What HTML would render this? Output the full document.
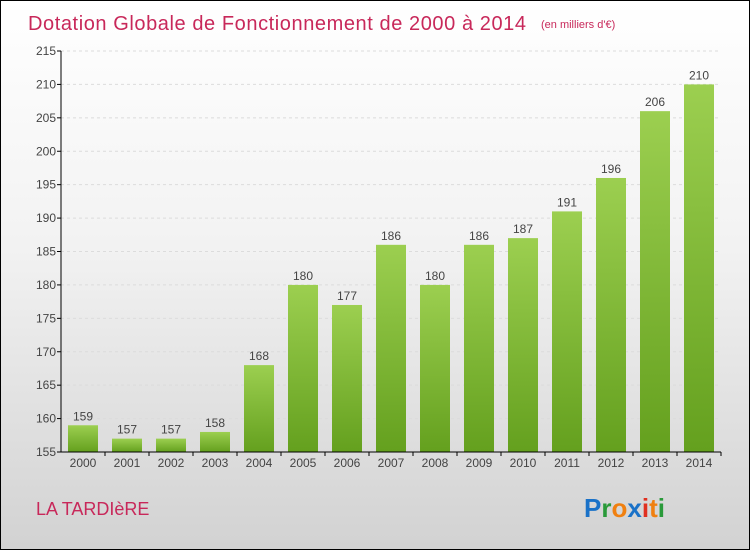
<!DOCTYPE html>
<html><head><meta charset="utf-8"><style>
body{margin:0}
#c{position:relative;width:748px;height:548px;border:1px solid #000;background:linear-gradient(#ffffff,#f2f2f2 45%,#d2d2d2);font-family:"Liberation Sans",sans-serif;overflow:hidden}
</style></head><body>
<div id="c">
<svg width="748" height="548">
<defs><linearGradient id="g" x1="0" x2="0" y1="0" y2="1"><stop offset="0" stop-color="#9ccf50"/><stop offset="1" stop-color="#64a01e"/></linearGradient></defs>
<text x="27" y="29" font-size="20" fill="#c8285a" textLength="498" lengthAdjust="spacing">Dotation Globale de Fonctionnement de 2000 à 2014</text>
<text x="540" y="27" font-size="11" fill="#c8285a">(en milliers d'€)</text>
<g id="grid"></g><g id="bars"></g><g id="axes"></g>
<text x="35" y="514" font-size="18" fill="#c8285a">LA TARDIèRE</text>
<text x="583" y="516" font-size="26" font-weight="bold" font-family="Liberation Sans, sans-serif"><tspan fill="#1a72c8">P</tspan><tspan fill="#2a9a3a">r</tspan><tspan fill="#f08010">o</tspan><tspan fill="#1a72c8">x</tspan><tspan fill="#e03020">i</tspan><tspan fill="#f08010">t</tspan><tspan fill="#2a9a3a">i</tspan></text>
</svg></div>
<script>
const years=["2000","2001","2002","2003","2004","2005","2006","2007","2008","2009","2010","2011","2012","2013","2014"];
const values=[159,157,157,158,168,180,177,186,180,186,187,191,196,206,210];
const ticks=[155,160,165,170,175,180,185,190,195,200,205,210,215];
const NS="http://www.w3.org/2000/svg";
const y=v=>451-(v-155)*(401/60);
const x=i=>82+i*44;
function mk(t,a,p){const e=document.createElementNS(NS,t);for(const k in a)e.setAttribute(k,a[k]);p.appendChild(e);return e;}
const G=document.getElementById('grid'),B=document.getElementById('bars'),A=document.getElementById('axes');
ticks.forEach(t=>{
 const l=mk('line',{x1:60,x2:718,y1:y(t),y2:y(t),stroke:'#dcdcdc','stroke-dasharray':'3,3'},G);
 
 
 mk('line',{x1:56,x2:60,y1:y(t),y2:y(t),stroke:'#000'},A);
 const tx=mk('text',{x:55,y:y(t)+4,'font-size':12,fill:'#444','text-anchor':'end'},A);tx.textContent=t;
 
 
});
values.forEach((v,i)=>{
 const r=mk('rect',{x:x(i)-15,y:y(v),width:30,height:451-y(v),fill:'url(#g)'},B);
 
 
 const t=mk('text',{x:x(i),y:y(v)-5,'font-size':12,fill:'#444','text-anchor':'middle'},B);t.textContent=v;
 
 
 const xl=mk('text',{x:x(i),y:466,'font-size':12,fill:'#444','text-anchor':'middle'},A);xl.textContent=years[i];
 
 
 mk('line',{x1:x(i)+22,x2:x(i)+22,y1:451,y2:455,stroke:'#000'},A);
});
mk('line',{x1:60,x2:60,y1:50,y2:451,stroke:'#000'},A);
mk('line',{x1:60,x2:720,y1:451,y2:451,stroke:'#000'},A);
</script>
</body></html>
